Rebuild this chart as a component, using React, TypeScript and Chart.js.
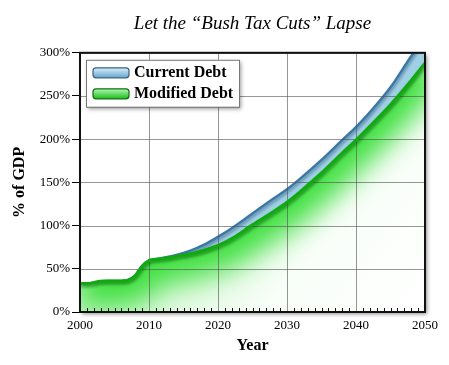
import React, { useEffect, useRef } from "react";
import { Chart, registerables } from "chart.js";

Chart.register(...registerables);

const titleText = "Let the \u201CBush Tax Cuts\u201D Lapse";
const xTitle = "Year";
const yTitle = "% of GDP";
const seriesLabels = ["Modified Debt", "Current Debt"];

const years = [2000, 2001, 2002, 2003, 2004, 2005, 2006, 2007, 2008, 2009, 2010, 2011, 2012, 2014, 2016, 2018, 2020, 2022, 2025, 2028, 2030, 2032, 2035, 2038, 2040, 2042, 2045, 2048, 2050];
const modifiedDebt = [33, 33, 34, 35.5, 36, 36, 36, 37, 42, 53, 59.5, 61, 62, 64.5, 67.5, 71.5, 77, 85, 101, 116, 127, 140, 161, 184, 199, 215, 240, 268, 288];
const currentDebt = [33, 33, 34, 35.5, 36, 36, 36, 37, 42, 53, 59.5, 61, 62.5, 66, 71, 78, 87, 97, 114, 131, 142, 155, 176, 199, 214, 231, 260, 296, 318];

const xMin = 2000;
const xMax = 2050;
const xStep = 10;
const yMin = 0;
const yMax = 300;
const yStep = 50;

const SERIF = "'Liberation Serif', 'Times New Roman', serif";

const framePlugin = {
  id: "frame",
  beforeDraw(chart: any) {
    const { ctx, chartArea: a, width, height } = chart;
    ctx.save();
    ctx.fillStyle = "#fff";
    ctx.fillRect(0, 0, width, height);
    ctx.shadowColor = "rgba(0,0,0,0.45)";
    ctx.shadowBlur = 4;
    ctx.shadowOffsetX = 2;
    ctx.shadowOffsetY = 2;
    ctx.fillRect(a.left, a.top, a.right - a.left, a.bottom - a.top);
    ctx.restore();
  },
  beforeDatasetDraw(chart: any, args: any) {
    const ctx = chart.ctx;
    const a = chart.chartArea;
    if (args.index === 0) {
      const line = args.meta.dataset;
      // glow below the modified line
      ctx.save();
      ctx.beginPath();
      line.path(ctx);
      ctx.lineTo(a.right, a.bottom);
      ctx.lineTo(a.left, a.bottom);
      ctx.closePath();
      ctx.clip();
      ctx.beginPath();
      line.path(ctx);
      ctx.strokeStyle = "rgba(55,222,55,0.95)";
      ctx.lineWidth = 50;
      ctx.lineJoin = "round";
      ctx.filter = "blur(14px)";
      ctx.stroke();
      ctx.restore();

      // grid lines, visible through the fills
      const xs = chart.scales.x;
      const ys = chart.scales.y;
      ctx.save();
      ctx.strokeStyle = "rgba(80,80,80,0.6)";
      ctx.lineWidth = 1;
      xs.ticks.forEach((t: any) => {
        const px = Math.round(xs.getPixelForValue(t.value)) + 0.5;
        ctx.beginPath();
        ctx.moveTo(px, a.top);
        ctx.lineTo(px, a.bottom);
        ctx.stroke();
      });
      ys.ticks.forEach((t: any) => {
        const py = Math.round(ys.getPixelForValue(t.value)) + 0.5;
        ctx.beginPath();
        ctx.moveTo(a.left, py);
        ctx.lineTo(a.right, py);
        ctx.stroke();
      });
      ctx.restore();
    }

    ctx.save();
    if (args.index === 0) {
      ctx.shadowColor = "rgba(0,70,0,0.55)";
    } else {
      ctx.shadowColor = "rgba(0,40,80,0.45)";
    }
    ctx.shadowBlur = 3;
    ctx.shadowOffsetX = 1;
    ctx.shadowOffsetY = 2;
  },
  afterDatasetDraw(chart: any) {
    chart.ctx.restore();
  },
  afterDatasetsDraw(chart: any) {
    const { ctx, chartArea: a } = chart;
    const xs = chart.scales.x;
    ctx.save();
    ctx.strokeStyle = "#111";
    ctx.lineWidth = 1;
    for (let yr = Math.ceil(xs.min) + 1; yr < xs.max; yr++) {
      if (yr % xStep === 0) continue;
      const px = Math.round(xs.getPixelForValue(yr)) + 0.5;
      ctx.beginPath();
      ctx.moveTo(px, a.bottom);
      ctx.lineTo(px, a.bottom - 4);
      ctx.stroke();
    }
    ctx.strokeStyle = "#111";
    ctx.lineWidth = 2;
    ctx.strokeRect(a.left, a.top, a.right - a.left, a.bottom - a.top);
    ctx.restore();

    // legend
    const bx = a.left + 6;
    const by = a.top + 7;
    const bw = 153;
    const bh = 47;
    ctx.save();
    ctx.shadowColor = "rgba(0,0,0,0.4)";
    ctx.shadowBlur = 4;
    ctx.shadowOffsetX = 2;
    ctx.shadowOffsetY = 2;
    ctx.fillStyle = "#fff";
    ctx.fillRect(bx, by, bw, bh);
    ctx.restore();
    ctx.save();
    ctx.strokeStyle = "#777";
    ctx.lineWidth = 1;
    ctx.strokeRect(bx + 0.5, by + 0.5, bw, bh);
    const items = [
      { label: chart.data.datasets[1].label, top: "rgb(215,240,250)", bot: "rgb(100,165,205)", edge: "rgb(60,95,125)" },
      { label: chart.data.datasets[0].label, top: "rgb(180,248,180)", bot: "rgb(25,190,25)", edge: "rgb(20,105,20)" },
    ];
    items.forEach((it, i) => {
      const cy = by + 13 + i * 21;
      const sx = bx + 7;
      const sy = cy - 5;
      const sw = 36;
      const sh = 10;
      const g = ctx.createLinearGradient(0, sy, 0, sy + sh);
      g.addColorStop(0, it.top);
      g.addColorStop(1, it.bot);
      ctx.beginPath();
      ctx.roundRect(sx, sy, sw, sh, 3);
      ctx.fillStyle = g;
      ctx.fill();
      ctx.strokeStyle = it.edge;
      ctx.lineWidth = 1.2;
      ctx.stroke();
      ctx.fillStyle = "#000";
      ctx.font = `bold 16px ${SERIF}`;
      ctx.textBaseline = "middle";
      ctx.textAlign = "left";
      ctx.fillText(it.label, bx + 48, cy);
    });
    ctx.restore();
  },
};

export default function App() {
  const ref = useRef<HTMLCanvasElement | null>(null);

  useEffect(() => {
    document.body.style.margin = "0";
    const canvas = ref.current;
    if (!canvas) return;

    const modPts = years.map((y, i) => ({ x: y, y: modifiedDebt[i] }));
    const curPts = years.map((y, i) => ({ x: y, y: currentDebt[i] }));

    const greenFill = (c: any) => {
      const a = c.chart.chartArea;
      if (!a) return "rgb(200,245,200)";
      const g = c.chart.ctx.createLinearGradient(a.left, a.top, a.right, a.bottom);
      g.addColorStop(0, "rgb(165,238,165)");
      g.addColorStop(0.4, "rgb(205,246,205)");
      g.addColorStop(0.7, "rgb(248,254,248)");
      g.addColorStop(1, "rgb(255,255,255)");
      return g;
    };

    const chart = new Chart(canvas, {
      type: "line",
      data: {
        datasets: [
          {
            label: seriesLabels[0],
            data: modPts,
            borderColor: "rgb(15,170,15)",
            borderWidth: 3,
            backgroundColor: greenFill,
            fill: "origin",
            pointRadius: 0,
            cubicInterpolationMode: "monotone",
          },
          {
            label: seriesLabels[1],
            data: curPts,
            borderColor: "rgb(60,120,165)",
            borderWidth: 2.5,
            backgroundColor: "rgb(160,208,230)",
            fill: "-1",
            pointRadius: 0,
            cubicInterpolationMode: "monotone",
          },
        ],
      },
      options: {
        responsive: false,
        animation: false,
        devicePixelRatio: 1,
        layout: { padding: { left: 0, right: 24, top: 0, bottom: 0 } },
        plugins: {
          legend: { display: false },
          tooltip: { enabled: false },
          title: {
            display: true,
            text: titleText,
            fullSize: false,
            color: "#000",
            font: { family: SERIF, size: 19, style: "italic", weight: "normal" },
            padding: { top: 13, bottom: 17 },
          },
        },
        scales: {
          x: {
            type: "linear",
            min: xMin,
            max: xMax,
            afterFit(scale: any) {
              scale.height = 53;
            },
            ticks: {
              stepSize: xStep,
              color: "#000",
              padding: 6,
              font: { family: SERIF, size: 13 },
              callback: (v: any) => String(v),
            },
            grid: { color: "rgba(0,0,0,0)", lineWidth: 1, drawTicks: false },
            border: { display: true, color: "#000", width: 2 },
            title: {
              display: true,
              text: xTitle,
              color: "#000",
              font: { family: SERIF, size: 16, weight: "bold" },
              padding: { top: 4, bottom: 10 },
            },
          },
          y: {
            type: "linear",
            min: yMin,
            max: yMax,
            afterFit(scale: any) {
              scale.width = 80;
            },
            ticks: {
              stepSize: yStep,
              color: "#000",
              padding: 2,
              font: { family: SERIF, size: 13 },
              callback: (v: any) => `${v}%`,
            },
            grid: { color: "rgba(0,0,0,0)", lineWidth: 1, tickLength: 8, tickColor: "#000" },
            border: { display: true, color: "#000", width: 2 },
            title: {
              display: true,
              text: yTitle,
              color: "#000",
              font: { family: SERIF, size: 16, weight: "bold" },
              padding: { top: 10, bottom: 0 },
            },
          },
        },
      },
      plugins: [framePlugin],
    });

    return () => chart.destroy();
  }, []);

  return (
    <div style={{ width: 449, height: 365, background: "#fff" }}>
      <canvas ref={ref} width={449} height={365} style={{ display: "block" }} />
    </div>
  );
}
